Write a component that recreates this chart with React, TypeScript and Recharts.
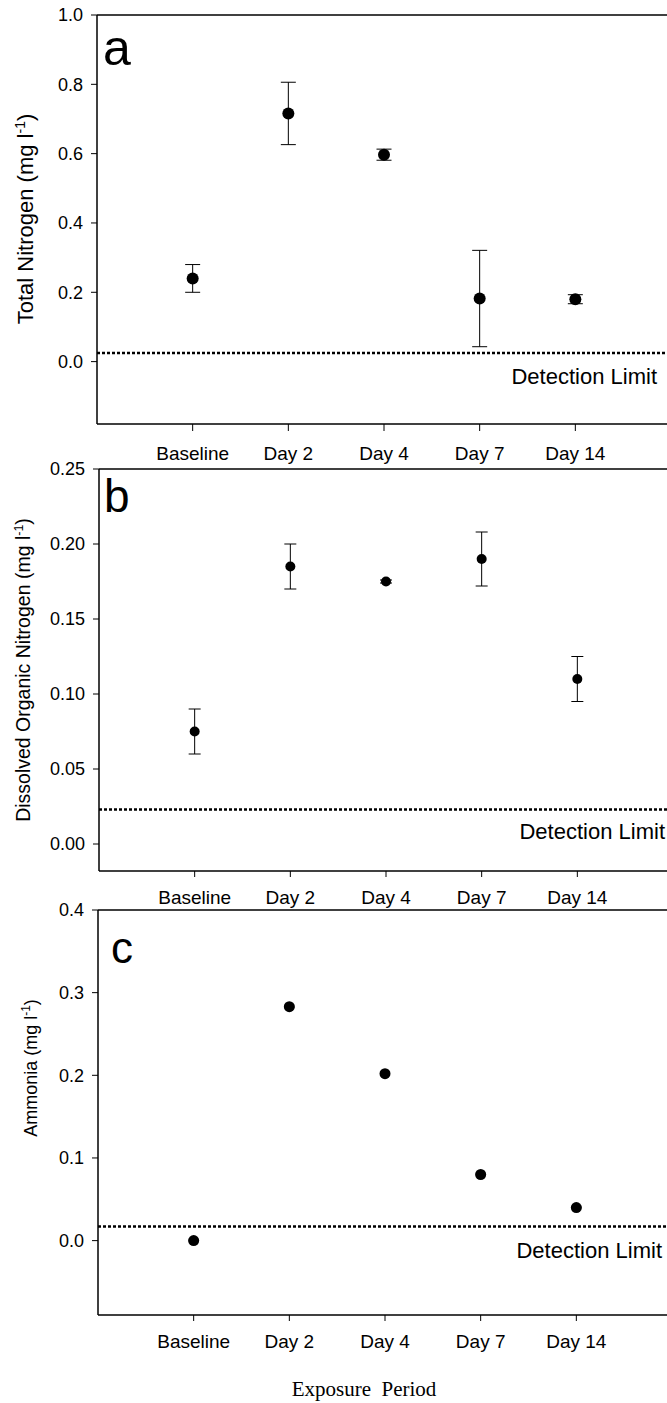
import React from 'react';
import { ScatterChart, Scatter, ErrorBar, XAxis, YAxis, ReferenceLine } from 'recharts';

const FONT = '"Liberation Sans", Arial, sans-serif';
const SERIF = '"Liberation Serif", "Times New Roman", serif';

const categories = ['Baseline', 'Day 2', 'Day 4', 'Day 7', 'Day 14'];
const positions = [1, 2, 3, 4, 5];

// panel a - total nitrogen
const totalNitrogen = [0.24, 0.716, 0.597, 0.182, 0.18];
const totalNitrogenErr = [0.04, 0.09, 0.016, 0.139, 0.013];
const totalNitrogenTicks = [0, 0.2, 0.4, 0.6, 0.8, 1.0];
const totalNitrogenLimit = 0.025;

// panel b - dissolved organic nitrogen
const organicNitrogen = [0.075, 0.185, 0.175, 0.19, 0.11];
const organicNitrogenErr = [0.015, 0.015, 0.001, 0.018, 0.015];
const organicNitrogenTicks = [0, 0.05, 0.1, 0.15, 0.2, 0.25];
const organicNitrogenLimit = 0.023;

// panel c - ammonia
const ammonia = [0.0, 0.283, 0.202, 0.08, 0.04];
const ammoniaErr = [0.001, 0.001, 0.001, 0.001, 0.001];
const ammoniaTicks = [0, 0.1, 0.2, 0.3, 0.4];
const ammoniaLimit = 0.017;

const toRows = (values: number[], errs: number[]) =>
  positions.map((x, i) => ({ x, y: values[i], err: errs[i] }));

interface PanelProps {
  top: number;
  height: number;
  marginTop: number;
  axisWidth: number;
  xAxisHeight: number;
  rows: { x: number; y: number; err: number }[];
  domain: [number, number];
  ticks: number[];
  decimals: number;
  limit: number;
  labelRight: number;
  labelDown: number;
  dotR: number;
  capHalf: number;
  xTickSize: number;
  xTickMargin: number;
}

const Panel: React.FC<PanelProps> = ({
  top, height, marginTop, axisWidth, xAxisHeight, rows, domain, ticks, decimals,
  limit, labelRight, labelDown, dotR, capHalf, xTickSize, xTickMargin,
}) => (
  <div style={{ position: 'absolute', left: 0, top }}>
    <ScatterChart
      width={axisWidth + 574}
      height={height}
      margin={{ top: marginTop, right: 0, left: 0, bottom: 0 }}
    >
      <XAxis
        type="number"
        dataKey="x"
        domain={[0, 6]}
        ticks={positions}
        tickFormatter={(v: number) => categories[v - 1] ?? ''}
        height={xAxisHeight}
        tickSize={xTickSize}
        tickMargin={xTickMargin}
        axisLine={{ stroke: '#000', strokeWidth: 1.5 }}
        tickLine={{ stroke: '#000' }}
        tick={{ fill: '#000', fontSize: 19, fontFamily: FONT }}
        allowDataOverflow
      />
      <YAxis
        type="number"
        dataKey="y"
        domain={domain}
        ticks={ticks}
        width={axisWidth}
        tickSize={6}
        tickMargin={8}
        tickFormatter={(v: number) => v.toFixed(decimals)}
        axisLine={{ stroke: '#000', strokeWidth: 1.5 }}
        tickLine={{ stroke: '#000' }}
        tick={{ fill: '#000', fontSize: 18, fontFamily: FONT }}
        allowDataOverflow
      />
      <ReferenceLine y={domain[1]} stroke="#000" strokeWidth={1.5} />
      <ReferenceLine
        y={limit}
        stroke="#000"
        strokeWidth={2.5}
        strokeDasharray="3 2"
        label={(p: any) => {
          const vb = p.viewBox || {};
          return (
            <text
              x={(vb.x ?? 0) + (vb.width ?? 0) - labelRight}
              y={(vb.y ?? 0) + labelDown}
              textAnchor="end"
              fontSize={22}
              fontFamily={FONT}
              fill="#000"
            >
              Detection Limit
            </text>
          );
        }}
      />
      <Scatter
        data={rows}
        fill="#000"
        isAnimationActive={false}
        shape={(p: any) => <circle cx={p.cx} cy={p.cy} r={dotR} fill="#000" />}
      >
        <ErrorBar dataKey="err" direction="y" width={capHalf} stroke="#000" strokeWidth={1} />
      </Scatter>
    </ScatterChart>
  </div>
);

export default function App() {
  return (
    <div
      style={{
        position: 'absolute',
        left: 0,
        top: 0,
        width: 667,
        height: 1403,
        overflow: 'hidden',
        background: '#fff',
      }}
    >
      <Panel
        top={0}
        height={480}
        marginTop={15}
        axisWidth={97}
        xAxisHeight={56}
        rows={toRows(totalNitrogen, totalNitrogenErr)}
        domain={[-0.18, 1.0]}
        ticks={totalNitrogenTicks}
        decimals={1}
        limit={totalNitrogenLimit}
        labelRight={14}
        labelDown={31}
        dotR={6}
        capHalf={7.5}
        xTickSize={7}
        xTickMargin={16}
      />
      <Panel
        top={440}
        height={470}
        marginTop={29}
        axisWidth={99}
        xAxisHeight={39}
        rows={toRows(organicNitrogen, organicNitrogenErr)}
        domain={[-0.018, 0.25]}
        ticks={organicNitrogenTicks}
        decimals={2}
        limit={organicNitrogenLimit}
        labelRight={8}
        labelDown={29}
        dotR={5}
        capHalf={6}
        xTickSize={6}
        xTickMargin={14}
      />
      <Panel
        top={880}
        height={520}
        marginTop={30}
        axisWidth={98}
        xAxisHeight={85}
        rows={toRows(ammonia, ammoniaErr)}
        domain={[-0.09, 0.4]}
        ticks={ammoniaTicks}
        decimals={1}
        limit={ammoniaLimit}
        labelRight={10}
        labelDown={31}
        dotR={5.5}
        capHalf={5}
        xTickSize={6}
        xTickMargin={14}
      />
      <svg
        width={667}
        height={1403}
        style={{ position: 'absolute', left: 0, top: 0, pointerEvents: 'none' }}
      >
        <g fontFamily={FONT} fill="#000">
          <text x={103} y={65} fontSize={50}>a</text>
          <text x={104} y={512} fontSize={46}>b</text>
          <text x={111} y={963} fontSize={44}>c</text>
          <text x={33} y={219} fontSize={22} textAnchor="middle" transform="rotate(-90 33 219)">
            Total Nitrogen (mg l<tspan dy={-8} fontSize={14}>-1</tspan><tspan dy={8}>)</tspan>
          </text>
          <text x={30} y={670} fontSize={19.5} textAnchor="middle" transform="rotate(-90 30 670)">
            Dissolved Organic Nitrogen (mg l<tspan dy={-7} fontSize={12.5}>-1</tspan><tspan dy={7}>)</tspan>
          </text>
          <text x={37} y={1068} fontSize={18} textAnchor="middle" transform="rotate(-90 37 1068)">
            Ammonia (mg l<tspan dy={-7} fontSize={12}>-1</tspan><tspan dy={7}>)</tspan>
          </text>
        </g>
        <text
          x={364}
          y={1396}
          fontSize={21}
          fontFamily={SERIF}
          textAnchor="middle"
          fill="#000"
          style={{ whiteSpace: 'pre' }}
        >
          {'Exposure  Period'}
        </text>
      </svg>
    </div>
  );
}
